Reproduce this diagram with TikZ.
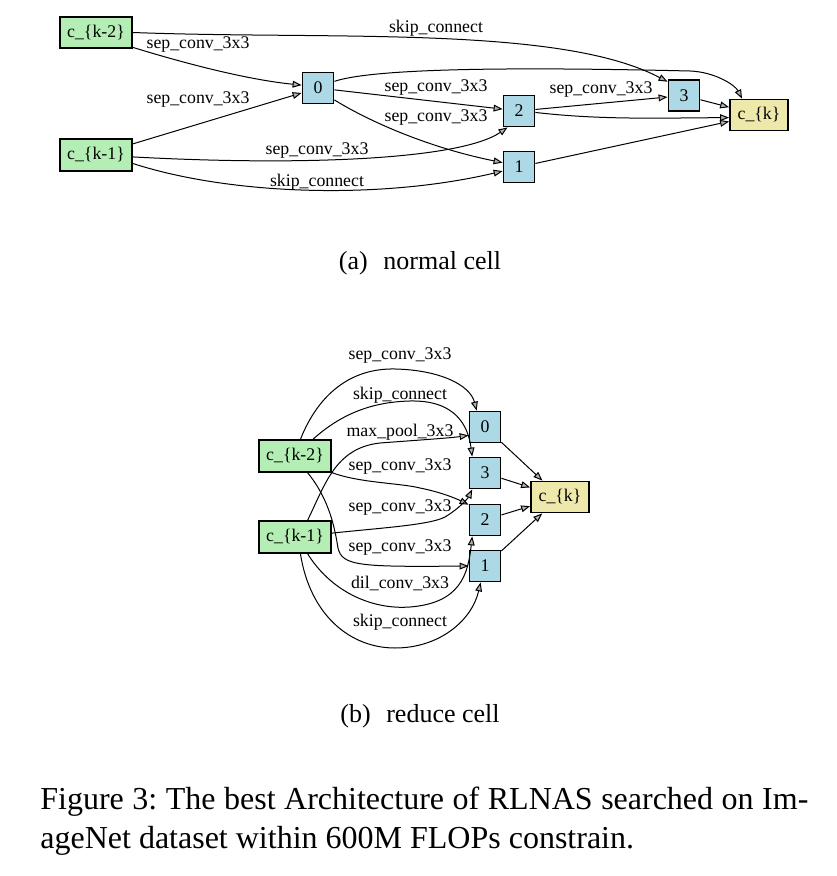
\documentclass[tikz,border=0pt]{standalone}
\usepackage{fontspec}
\setmainfont{Liberation Serif}
\usetikzlibrary{arrows.meta}
\definecolor{inpgreen}{HTML}{B4EEB4}
\definecolor{midblue}{HTML}{ADD8E6}
\definecolor{outgold}{HTML}{EEE8AA}
\frenchspacing
\begin{document}
\begin{tikzpicture}
	[
	x=0.5pt, y=-0.5pt, >={Triangle[length=4.5pt,width=3.4pt,fill=black!30]},
	%Knoten
	inp/.style={draw, line width=0.9pt, fill=inpgreen, minimum width=36pt, minimum height=15.75pt, inner sep=0pt, font=\fontsize{8.9}{10}\selectfont},
	mid/.style={draw, line width=0.9pt, fill=midblue, minimum width=15.5pt, minimum height=15.5pt, inner sep=0pt, font=\fontsize{8.9}{10}\selectfont},
	outp/.style={draw, line width=0.9pt, fill=outgold, minimum width=29pt, minimum height=15.5pt, inner sep=0pt, font=\fontsize{8.9}{10}\selectfont},
	lbl/.style={inner sep=0pt, font=\fontsize{8.9}{10}\selectfont},
	conn/.style={->, line width=0.5pt}
	]
	\useasboundingbox (0,0) rectangle (836,876);

	%(a) normal cell
	\node[inp] (k2a) at (96,32.5) {c\_\{k-2\}};
	\node[inp] (k1a) at (96,155) {c\_\{k-1\}};
	\node[mid] (n0a) at (318,88) {0};
	\node[mid] (n2a) at (519,111) {2};
	\node[mid] (n1a) at (519,167) {1};
	\node[mid] (n3a) at (684,95.5) {3};
	\node[outp] (cka) at (759,115) {c\_\{k\}};

	\draw[conn] (k2a.-22) .. controls (190,65) and (250,80) .. (n0a.170);
	\draw[conn] (k1a) -- (n0a);
	\draw[conn] (k2a.east) .. controls (330,40) and (560,25) .. (n3a.140);
	\draw[conn] (n0a.22) .. controls (380,66) and (560,68) .. (690,71) .. controls (715,72) and (735,85) .. (cka.136);
	\draw[conn] (n0a) -- (n2a);
	\draw[conn] (n0a.-36) .. controls (370,122) and (430,148) .. (n1a.165);
	\draw[conn] (k1a.-3) .. controls (300,166) and (460,160) .. (n2a.235);
	\draw[conn] (k1a.-13) .. controls (230,195) and (380,200) .. (n1a.194);
	\draw[conn] (n2a) -- (n3a);
	\draw[conn] (n2a.-5) .. controls (600,120) and (660,118) .. (cka.185);
	\draw[conn] (n3a) -- (cka);
	\draw[conn] (n1a) -- (cka);

	\node[lbl] (la1) at (198,45) {sep\_conv\_3x3};
	\node[lbl] (la2) at (198,100) {sep\_conv\_3x3};
	\node[lbl] (la3) at (436,28) {skip\_connect};
	\node[lbl] (la4) at (436,88) {sep\_conv\_3x3};
	\node[lbl] (la5) at (436,118) {sep\_conv\_3x3};
	\node[lbl] (la6) at (317,151) {sep\_conv\_3x3};
	\node[lbl] (la7) at (317,182) {skip\_connect};
	\node[lbl] (la8) at (601,90) {sep\_conv\_3x3};

	\node[anchor=base, inner sep=0pt, font=\fontsize{13}{15}\selectfont] (capa) at (420,270) {(a)\hspace{0.6em}normal cell};

	%(b) reduce cell
	\node[inp] (k2b) at (295,456) {c\_\{k-2\}};
	\node[inp] (k1b) at (295,537) {c\_\{k-1\}};
	\node[mid] (n0b) at (485,427) {0};
	\node[mid] (n3b) at (485,473) {3};
	\node[mid] (n2b) at (485,520) {2};
	\node[mid] (n1b) at (485,566) {1};
	\node[outp] (ckb) at (560,497) {c\_\{k\}};

	\draw[conn] (k2b.72) .. controls (318,395) and (350,368) .. (395,369) .. controls (440,370) and (470,385) .. (n0b.117);
	\draw[conn] (k2b.43) .. controls (340,415) and (370,402) .. (410,401) .. controls (455,400) and (468,425) .. (n3b.128);
	\draw[conn] (k1b.53) .. controls (325,485) and (335,448) .. (380,443) .. controls (420,440) and (450,438) .. (n0b.207);
	\draw[conn] (k2b.south east) .. controls (360,483) and (400,483) .. (420,488) .. controls (440,492) and (455,498) .. (n2b.137);
	\draw[conn] (k1b.6) .. controls (380,528) and (430,525) .. (445,517) .. controls (460,508) and (468,498) .. (n3b.232);
	\draw[conn] (k2b.-53) .. controls (330,500) and (335,530) .. (338,548) .. controls (342,566) and (360,567) .. (n1b.west);
	\draw[conn] (k1b.-53) .. controls (330,590) and (370,610) .. (410,607) .. controls (460,603) and (468,575) .. (n2b.232);
	\draw[conn] (k1b.-72) .. controls (310,615) and (350,648) .. (395,648) .. controls (440,648) and (472,620) .. (n1b.255);
	\draw[conn] (n0b) -- (ckb);
	\draw[conn] (n3b) -- (ckb);
	\draw[conn] (n2b) -- (ckb);
	\draw[conn] (n1b) -- (ckb);

	\node[lbl] (lb1) at (400,356) {sep\_conv\_3x3};
	\node[lbl] (lb2) at (400,395) {skip\_connect};
	\node[lbl] (lb3) at (400,432) {max\_pool\_3x3};
	\node[lbl] (lb4) at (400,467) {sep\_conv\_3x3};
	\node[lbl] (lb5) at (400,507) {sep\_conv\_3x3};
	\node[lbl] (lb6) at (400,547) {sep\_conv\_3x3};
	\node[lbl] (lb7) at (400,583) {dil\_conv\_3x3};
	\node[lbl] (lb8) at (400,622) {skip\_connect};

	\node[anchor=base, inner sep=0pt, font=\fontsize{13}{15}\selectfont] (capb) at (420,722) {(b)\hspace{0.6em}reduce cell};

	%Bildunterschrift
	\node[anchor=base west, inner sep=0pt, font=\fontsize{16}{19}\selectfont] (fig1) at (40,809) {\hbox to 384pt{Figure 3: The best Architecture of RLNAS searched on Im-}};
	\node[anchor=base west, inner sep=0pt, font=\fontsize{16}{19}\selectfont] (fig2) at (40,848) {ageNet dataset within 600M FLOPs constrain.};
\end{tikzpicture}
\end{document}
